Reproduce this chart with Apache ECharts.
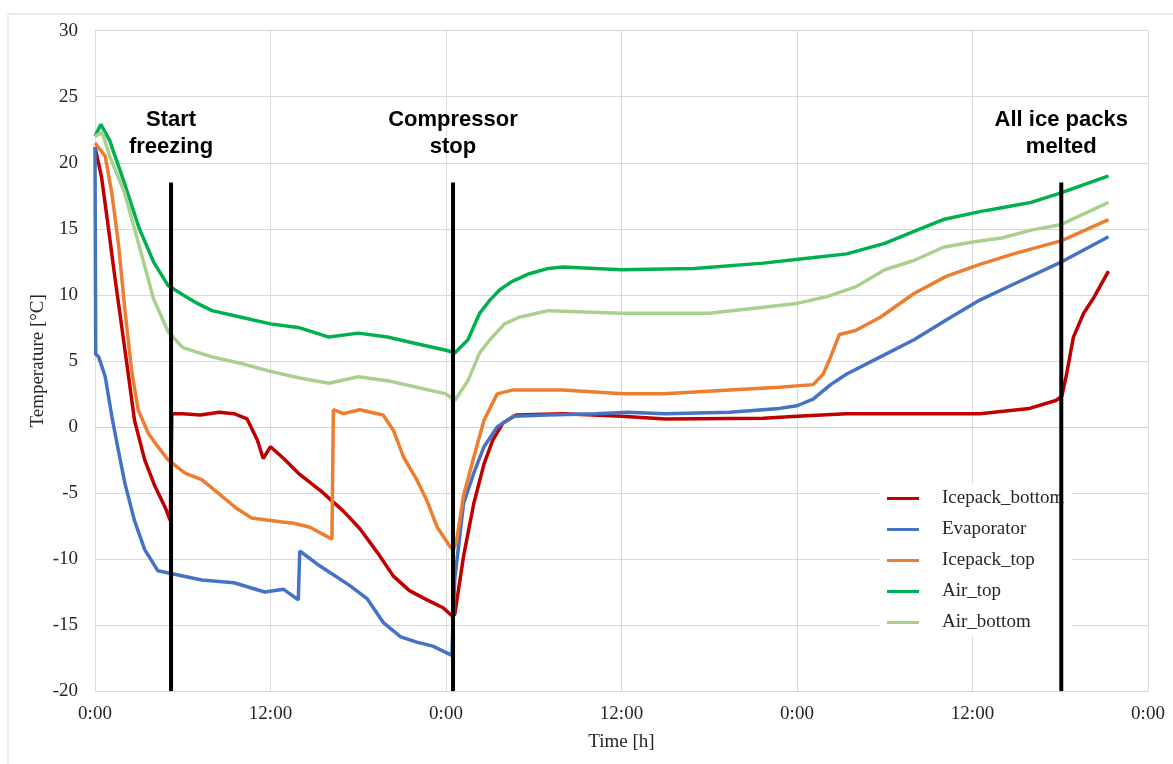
<!DOCTYPE html>
<html>
<head>
<meta charset="utf-8">
<script src="https://cdn.jsdelivr.net/npm/echarts@6/dist/echarts.min.js"></script>
<style>html,body{margin:0;padding:0;background:#fff}#c{width:1173px;height:764px}</style>
</head>
<body>
<div id="c"></div>
<script>
// [hour, °C]
const icepackBottom = [[0,21.2],[0.45,18.9],[0.9,15.2],[1.35,11.4],[1.8,7.8],[2.3,3.8],[2.7,0.5],[3.4,-2.5],[4.1,-4.5],[4.8,-6.1],[5.15,-7.1],[5.25,1.0],[6,1.0],[7.2,0.9],[8.5,1.1],[9.5,1.0],[10.4,0.6],[11.1,-1.0],[11.5,-2.4],[12.0,-1.5],[12.9,-2.4],[14,-3.6],[15.5,-4.9],[17,-6.4],[18.1,-7.7],[19.3,-9.5],[20.4,-11.3],[21.5,-12.4],[22.7,-13.1],[23.8,-13.7],[24.4,-14.3],[24.6,-14.2],[25.2,-9.8],[25.9,-5.8],[26.6,-2.8],[27.2,-1.0],[27.9,0.3],[28.8,0.9],[32,1.0],[36,0.8],[39,0.6],[45.7,0.65],[48,0.8],[51.4,1.0],[56,1.0],[60.5,1.0],[63.9,1.4],[65.7,2.0],[66.1,2.3],[66.4,3.8],[66.9,6.8],[67.6,8.6],[68.3,9.8],[69.3,11.8]];
const evaporator = [[0,21.2],[0.05,5.5],[0.25,5.3],[0.7,3.8],[1.15,0.8],[1.6,-1.8],[2.05,-4.3],[2.7,-7.1],[3.4,-9.3],[4.3,-10.9],[5.2,-11.1],[7.3,-11.6],[9.5,-11.8],[11.6,-12.5],[12.9,-12.3],[13.9,-13.1],[14.0,-9.4],[15.2,-10.4],[16.3,-11.2],[17.4,-12.0],[18.6,-13.0],[19.7,-14.8],[20.9,-15.9],[22,-16.3],[23.1,-16.6],[24.4,-17.3],[24.6,-11.5],[25.2,-5.8],[25.9,-3.5],[26.6,-1.5],[27.5,0],[28.6,0.8],[31,0.9],[34.3,1.0],[36.4,1.1],[39,1.0],[43.4,1.1],[46.8,1.4],[48,1.6],[49.1,2.1],[50.3,3.2],[51.4,4.0],[53.7,5.3],[56,6.6],[58.2,8.1],[60.5,9.6],[62.8,10.8],[66.1,12.5],[69.3,14.4]];
const icepackTop = [[0,21.5],[0.7,20.5],[1.15,17.7],[1.6,13.9],[2.05,8.8],[2.5,4.3],[2.95,1.3],[3.65,-0.5],[4.3,-1.5],[5.0,-2.5],[6.15,-3.5],[7.3,-4.0],[8.4,-5.0],[9.6,-6.1],[10.7,-6.9],[12.8,-7.2],[13.6,-7.3],[14.7,-7.6],[16.2,-8.5],[16.3,1.3],[17.0,1.0],[18.1,1.3],[19.7,0.9],[20.4,-0.25],[21.1,-2.3],[22,-4.0],[22.7,-5.6],[23.4,-7.6],[24.3,-9.1],[24.5,-9.3],[24.7,-8.8],[25.2,-5.2],[25.9,-2.3],[26.6,0.5],[27.5,2.5],[28.6,2.8],[32,2.8],[36.1,2.5],[38.9,2.5],[43.4,2.8],[46.8,3.0],[49.1,3.2],[49.8,4.0],[50.3,5.3],[50.9,7.0],[52,7.3],[53.7,8.3],[56,10.1],[58.2,11.4],[60.5,12.3],[62.8,13.1],[66.1,14.1],[69.3,15.7]];
const airTop = [[0,22.0],[0.4,22.9],[1,21.7],[2,18.5],[3,15.1],[4,12.5],[5,10.7],[6,10.0],[7,9.35],[8,8.8],[10,8.3],[12,7.8],[14,7.5],[16,6.8],[18,7.1],[20,6.8],[22,6.3],[24,5.8],[24.6,5.6],[25.5,6.6],[26.3,8.6],[27,9.6],[27.7,10.4],[28.5,11.0],[29.7,11.6],[31,12.0],[32,12.1],[36,11.9],[41,12.0],[45.7,12.4],[49,12.8],[51.4,13.1],[54,13.9],[56,14.8],[58,15.7],[60.5,16.3],[62,16.6],[64,17.0],[66,17.7],[69.3,19.0]];
const airBottom = [[0,22.0],[0.5,22.3],[1,20.5],[2,17.8],[3,13.8],[4,9.7],[5,7.2],[6,6.0],[8,5.3],[10,4.8],[12,4.2],[14,3.7],[16,3.3],[18,3.8],[20,3.5],[22,3.0],[24,2.5],[24.6,2.0],[25.5,3.5],[26.3,5.6],[27,6.6],[28,7.8],[29,8.3],[31,8.8],[36,8.6],[42,8.6],[46,9.1],[48,9.35],[50,9.85],[52,10.6],[54,11.9],[56,12.6],[58,13.6],[60,14.0],[62,14.3],[64,14.9],[66,15.3],[69.3,17.0]];

const seriesNames = ['Icepack_bottom','Evaporator','Icepack_top','Air_top','Air_bottom'];
const seriesColors = ['#C00000','#4472C4','#ED7D31','#00B050','#A9D18E'];
const seriesData = [icepackBottom, evaporator, icepackTop, airTop, airBottom];

// event markers: hour, bottom/top of marker line (°C), label
const eventHours = [5.2, 24.48, 66.07];
const eventLow = -20;
const eventHigh = 18.5;
const eventLabels = ['Start\nfreezing', 'Compressor\nstop', 'All ice packs\nmelted'];

const xTicks = { min: 0, max: 72, interval: 12 };
const yTicks = { min: -20, max: 30, interval: 5 };

const chart = echarts.init(document.getElementById('c'), null, { renderer: 'canvas' });

const serif = 'Liberation Serif, Times New Roman, serif';
const series = seriesData.map((d, i) => ({
  name: seriesNames[i], type: 'line', data: d, showSymbol: false, symbol: 'none',
  lineStyle: { color: seriesColors[i], width: 3.5 }, itemStyle: { color: seriesColors[i] },
  z: 2, silent: true
}));
eventHours.forEach((h, i) => {
  series.push({
    name: 'event' + i, type: 'line', data: [[h, eventLow], [h, eventHigh]],
    showSymbol: false, symbol: 'none', lineStyle: { color: '#000', width: 4 }, z: 10, silent: true,
    markPoint: {
      symbol: 'circle', symbolSize: 0,
      data: [{ coord: [h, eventHigh] }],
      label: {
        show: true, position: 'top', distance: 22, formatter: eventLabels[i],
        fontFamily: 'Liberation Sans, Arial, sans-serif', fontWeight: 'bold', fontSize: 22,
        lineHeight: 27, color: '#000', align: 'center'
      }
    }
  });
});

chart.setOption({
  animation: false,
  backgroundColor: '#fff',
  grid: { left: 95, right: 25, top: 30.7, bottom: 73, containLabel: false },
  xAxis: {
    type: 'value', min: xTicks.min, max: xTicks.max, interval: xTicks.interval,
    name: 'Time [h]', nameLocation: 'middle', nameGap: 42, nameMoveOverlap: false,
    nameTextStyle: { fontFamily: serif, fontSize: 19, color: '#262626' },
    axisLine: { show: true, lineStyle: { color: '#d0d0d0', width: 1 } },
    axisTick: { show: false },
    axisLabel: { formatter: v => (v % 24) + ':00', fontFamily: serif, fontSize: 19, color: '#262626', margin: 14 },
    splitLine: { show: true, lineStyle: { color: '#d9d9d9', width: 1 } }
  },
  yAxis: {
    type: 'value', min: yTicks.min, max: yTicks.max, interval: yTicks.interval,
    name: 'Temperature [°C]', nameLocation: 'middle', nameGap: 47, nameRotate: 90, nameMoveOverlap: false,
    nameTextStyle: { fontFamily: serif, fontSize: 19, color: '#262626' },
    axisLine: { show: false }, axisTick: { show: false },
    axisLabel: { fontFamily: serif, fontSize: 19, color: '#262626', margin: 17 },
    splitLine: { show: true, lineStyle: { color: '#d9d9d9', width: 1 } }
  },
  legend: {
    data: seriesNames, orient: 'vertical', left: 880, top: 484,
    icon: 'rect', itemWidth: 32, itemHeight: 3, itemGap: 12,
    padding: [5, 8, 5, 7], backgroundColor: '#fff',
    textStyle: { fontFamily: serif, fontSize: 19, color: '#262626', padding: [0, 0, 0, 18] }
  },
  graphic: [{
    type: 'rect', left: 5.5, top: 11.5, z: -10, silent: true,
    shape: { width: 1200, height: 800 },
    style: { fill: 'none', stroke: '#d9d9d9', lineWidth: 1 }
  }],
  series: series
});
</script>
</body>
</html>
